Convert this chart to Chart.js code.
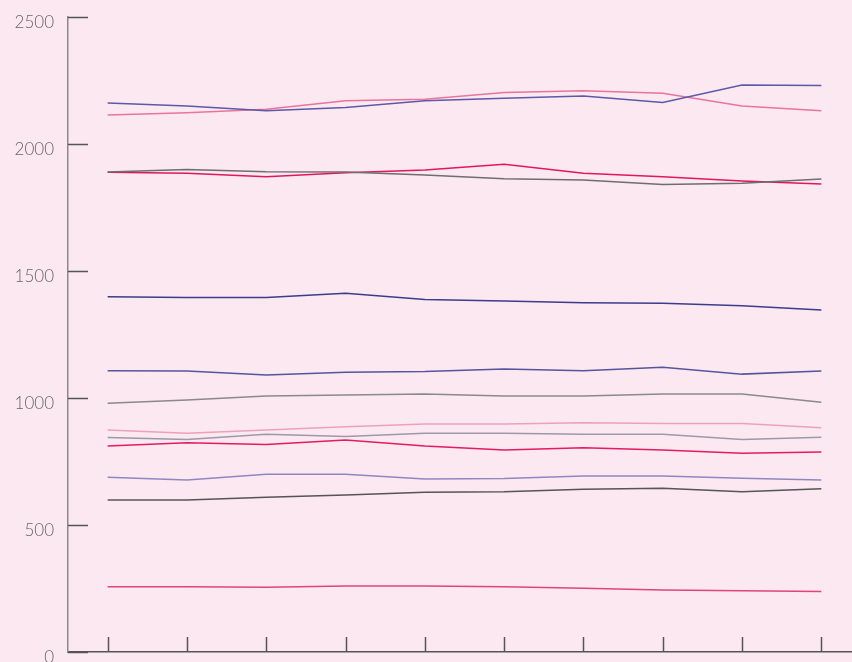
<!DOCTYPE html>
<html>
<head>
<meta charset="utf-8">
<script src="https://cdn.jsdelivr.net/npm/chart.js@4/dist/chart.umd.min.js"></script>
<style>
  html, body { margin: 0; padding: 0; background: #fce8f1; overflow: hidden; width: 852px; height: 662px; }
  #wrap { position: absolute; left: 0; top: 0; width: 880px; height: 700px; }
</style>
</head>
<body>
<div id="wrap"><canvas id="c" width="880" height="700"></canvas></div>
<script>
const categories = ["1", "2", "3", "4", "5", "6", "7", "8", "9", "10"];
const yTickValues = [0, 500, 1000, 1500, 2000, 2500];

const series1 = [2161, 2150, 2131, 2144, 2170, 2180, 2189, 2163, 2232, 2230];
const series2 = [2114, 2123, 2137, 2170, 2176, 2203, 2210, 2200, 2150, 2131];
const series3 = [1890, 1900, 1891, 1890, 1878, 1863, 1858, 1841, 1845, 1862];
const series4 = [1889, 1885, 1871, 1887, 1898, 1920, 1885, 1871, 1854, 1843];
const series5 = [1399, 1396, 1396, 1412, 1388, 1382, 1375, 1373, 1363, 1346];
const series6 = [1107, 1106, 1091, 1101, 1104, 1114, 1107, 1121, 1094, 1106];
const series7 = [979, 992, 1008, 1012, 1016, 1008, 1008, 1016, 1016, 983];
const series8 = [874, 861, 874, 887, 898, 898, 903, 900, 900, 883];
const series9 = [844, 837, 857, 848, 861, 861, 857, 857, 837, 845];
const series10 = [811, 824, 817, 835, 811, 795, 804, 795, 782, 787];
const series11 = [688, 677, 700, 700, 681, 683, 693, 693, 684, 677];
const series12 = [598, 598, 609, 618, 629, 631, 641, 645, 631, 643];
const series13 = [257, 257, 255, 260, 260, 257, 251, 244, 241, 238];

const seriesList = [
  { name: "Series 1", data: series1, color: "#5b59a8" },
  { name: "Series 2", data: series2, color: "#e8759c" },
  { name: "Series 3", data: series3, color: "#6e6e6e" },
  { name: "Series 4", data: series4, color: "#e0185a" },
  { name: "Series 5", data: series5, color: "#3c3c8c" },
  { name: "Series 6", data: series6, color: "#55559e" },
  { name: "Series 7", data: series7, color: "#8a8a8a" },
  { name: "Series 8", data: series8, color: "#eaa2bc" },
  { name: "Series 9", data: series9, color: "#9c99ab" },
  { name: "Series 10", data: series10, color: "#e31c5f" },
  { name: "Series 11", data: series11, color: "#8f88c0" },
  { name: "Series 12", data: series12, color: "#555555" },
  { name: "Series 13", data: series13, color: "#e0457a" }
];

const innerTicks = {
  id: "innerTicks",
  afterDraw(chart) {
    const ctx = chart.ctx;
    const xs = chart.scales.x, ys = chart.scales.y;
    const area = chart.chartArea;
    ctx.save();
    ctx.strokeStyle = "#555";
    ctx.lineWidth = 1.5;
    yTickValues.forEach(v => {
      const y = Math.round(ys.getPixelForValue(v)) + 0.5;
      ctx.beginPath();
      ctx.moveTo(area.left, y);
      ctx.lineTo(area.left + 20, y);
      ctx.stroke();
    });
    categories.forEach((c, i) => {
      const x = Math.round(xs.getPixelForValue(i)) + 0.5;
      ctx.beginPath();
      ctx.moveTo(x, area.bottom);
      ctx.lineTo(x, area.bottom - 15);
      ctx.stroke();
    });
    ctx.restore();
  }
};

new Chart(document.getElementById("c"), {
  type: "line",
  data: {
    labels: categories,
    datasets: seriesList.map(s => ({
      label: s.name,
      data: s.data,
      borderColor: s.color,
      backgroundColor: s.color,
      borderWidth: 1.5,
      pointRadius: 0,
      tension: 0,
      fill: false
    }))
  },
  options: {
    responsive: false,
    animation: false,
    layout: { padding: { top: 17, right: 19, left: 0, bottom: 0 } },
    plugins: { legend: { display: false }, tooltip: { enabled: false } },
    scales: {
      x: {
        offset: true,
        grid: { display: false, drawTicks: false },
        border: { display: true, color: "#555", width: 1.5 },
        ticks: { display: false },
        afterFit(scale) { scale.height = 48; scale.paddingLeft = 0; scale.paddingRight = 0; }
      },
      y: {
        min: 0,
        max: 2500,
        afterBuildTicks(scale) { scale.ticks = yTickValues.map(v => ({ value: v })); },
        grid: { display: false, drawTicks: false },
        border: { display: true, color: "#8a8a8a", width: 1.5 },
        ticks: {
          padding: 14,
          labelOffset: 6,
          color: "#666",
          font: { family: "Lato", weight: 300, size: 17 },
          callback: v => String(v)
        },
        afterFit(scale) { scale.width = 68; scale.paddingTop = 0; scale.paddingBottom = 0; }
      }
    }
  },
  plugins: [innerTicks]
});
</script>
</body>
</html>
